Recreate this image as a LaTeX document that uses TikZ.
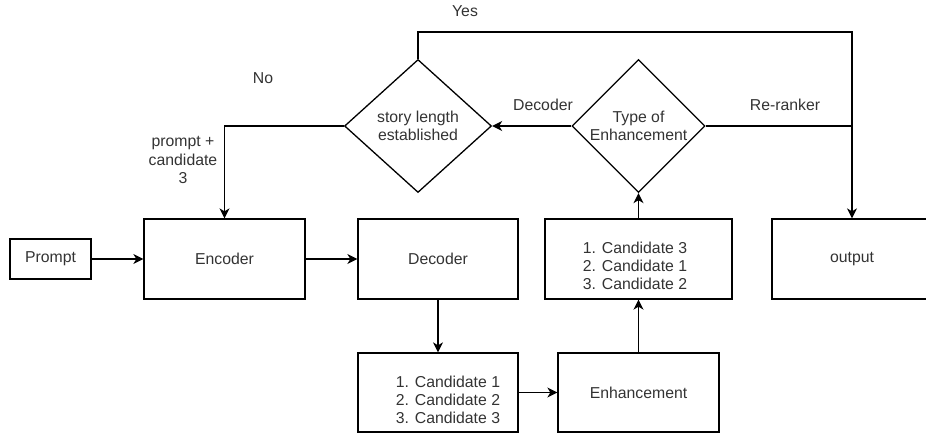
\documentclass[tikz,border=0pt]{standalone}
\usepackage{fontspec}
\setmainfont{Liberation Sans}
\usetikzlibrary{shapes.geometric,arrows.meta}
\definecolor{txt}{RGB}{51,51,51}
\begin{document}
\begin{tikzpicture}[x=1pt,y=-1pt,
  font=\fontsize{15.8}{18.3}\selectfont,
  box/.style={draw, line width=1.3pt, inner sep=0pt, text=txt},
  dia/.style={draw, diamond, line width=1.3pt, inner sep=0pt, text=txt, align=center},
  conn/.style={line width=1.3pt},
  arr/.style={conn, -{Stealth[length=10pt,width=10pt,inset=3pt]}},
  lab/.style={text=txt, align=center, inner sep=0pt}]
\useasboundingbox (0,0) rectangle (926,436);

\node[box, minimum width=81, minimum height=40] (prompt) at (50.5,259) {Prompt};
\node[box, minimum width=161, minimum height=80] (enc) at (224.5,259) {Encoder};
\node[box, minimum width=160, minimum height=80] (dec) at (438,259) {Decoder};
\node[box, minimum width=160, minimum height=79,
  label={[lab, xshift=10pt, yshift=-7.5pt]center:{1. Candidate 1\\2. Candidate 2\\3. Candidate 3}}] (cand) at (438,392.5) {};
\node[box, minimum width=161, minimum height=79] (enh) at (638.5,392.5) {Enhancement};
\node[box, minimum width=187, minimum height=80,
  label={[lab, xshift=-3.5pt, yshift=-7pt]center:{1. Candidate 3\\2. Candidate 1\\3. Candidate 2}}] (rank) at (638.5,259) {};
\node[box, minimum width=160, minimum height=80] (out) at (852,259) {output};

\node[dia, minimum width=147, minimum height=133] (len) at (418,126) {story length\\established};
\node[dia, minimum width=133, minimum height=133] (type) at (638.5,126) {Type of\\Enhancement};

\coordinate (tr) at (852,32);
\coordinate (j) at (852,126);

\draw[arr] (prompt) -- (enc);
\draw[arr] (enc) -- (dec);
\draw[arr] (dec) -- (cand);
\draw[arr] (cand) -- (enh);
\draw[arr] (enh) -- (rank);
\draw[arr] (rank) -- (type);
\draw[arr] (type) -- (len);
\draw[arr] (len.west) -| (enc.north);
\draw[arr] (len.north) |- (tr) -- (out.north);
\draw[conn] (type.east) -- (j);

\node[lab] (yes) at (465,11) {Yes};
\node[lab] (no) at (263,78) {No};
\node[lab] (decl) at (543,105) {Decoder};
\node[lab] (rerank) at (785,105) {Re-ranker};
\node[lab] (pc) at (183,160) {prompt +\\candidate\\3};
\end{tikzpicture}
\end{document}
